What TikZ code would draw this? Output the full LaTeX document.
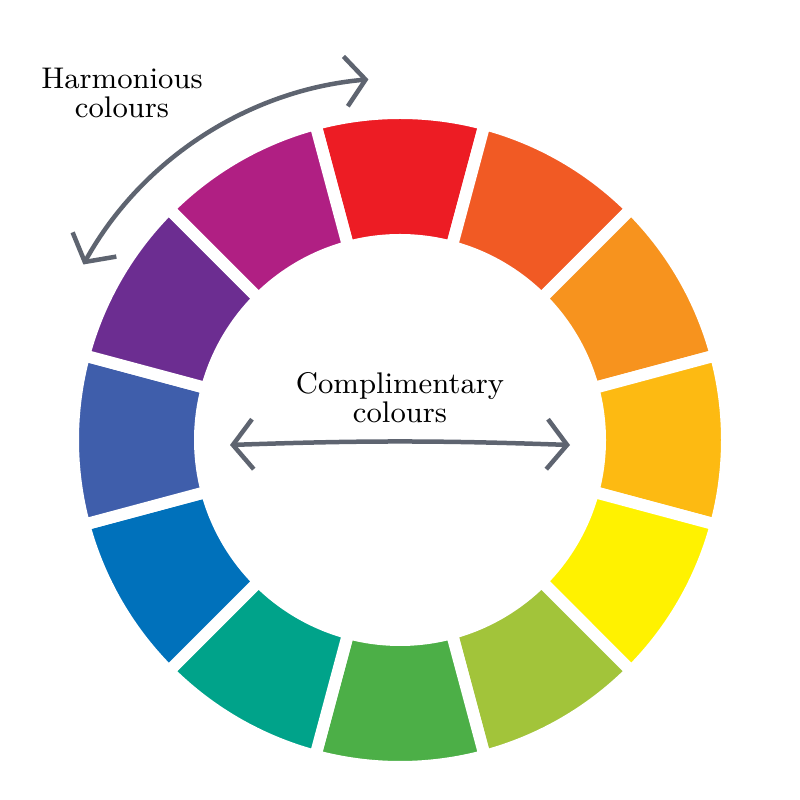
\documentclass[tikz,border=0pt]{standalone}
\usetikzlibrary{arrows.meta,calc}
\definecolor{c1}{HTML}{ED1C24}\definecolor{c2}{HTML}{F15A24}\definecolor{c3}{HTML}{F7931E}
\definecolor{c4}{HTML}{FDBA12}\definecolor{c5}{HTML}{FFF200}\definecolor{c6}{HTML}{A2C43A}
\definecolor{c7}{HTML}{4CAF47}\definecolor{c8}{HTML}{00A38A}\definecolor{c9}{HTML}{0071BB}
\definecolor{c10}{HTML}{3F5EAB}\definecolor{c11}{HTML}{6C2D91}\definecolor{c12}{HTML}{B01F83}
\definecolor{ag}{HTML}{5E6470}
\tikzset{seg/.style={draw=white,line width=0.12cm,line join=miter},
 garrow/.style={draw=ag,line width=0.045cm,line cap=round,{Straight Barb[length=0.2cm,width=0.5cm]}-{Straight Barb[length=0.2cm,width=0.5cm]}},
 lbl/.style={font=\fontsize{8.5}{8.3}\selectfont,align=center}}
\begin{document}
\begin{tikzpicture}
\useasboundingbox (0,0) rectangle (8,8);
\coordinate (O) at (4,3.6);
\foreach \i/\a in {1/90,2/60,3/30,4/0,5/-30,6/-60,7/-90,8/-120,9/-150,10/180,11/150,12/120}{
  \fill[c\i,seg] ($(O)+(\a-15:3.27)$) arc[start angle=\a-15,end angle=\a+15,radius=3.27]
    -- ($(O)+(\a+15:2.0)$) arc[start angle=\a+15,end angle=\a-15,radius=2.0] -- cycle;
}
\coordinate (cl) at (2.3,3.55);
\coordinate (cr) at (5.7,3.55);
\draw[garrow] (cl) to[bend left=2] (cr);
\coordinate (hl) at ($(O)+(151:3.62)$);
\coordinate (hr) at ($(O)+(95:3.62)$);
\draw[garrow] (hl) arc[start angle=151,end angle=95,radius=3.62];
\node[lbl] (t1) at (4,4.02) {Complimentary\\colours};
\node[lbl] (t2) at (1.22,7.07) {Harmonious\\colours};
\end{tikzpicture}
\end{document}
